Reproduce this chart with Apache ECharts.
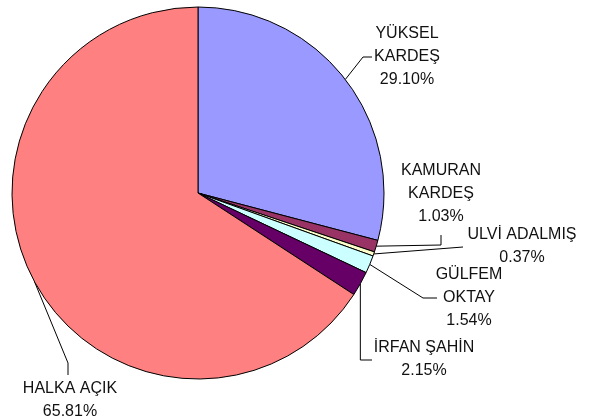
<!DOCTYPE html>
<html>
<head>
<meta charset="utf-8">
<script src="https://cdn.jsdelivr.net/npm/echarts@6/dist/echarts.min.js"></script>
<style>
html,body{margin:0;padding:0;background:#fff;}
#chart{width:591px;height:419px;}
</style>
</head>
<body>
<div id="chart"></div>
<script>
// Data
const categories = ['YÜKSEL\nKARDEŞ', 'KAMURAN\nKARDEŞ', 'ULVİ ADALMIŞ', 'GÜLFEM\nOKTAY', 'İRFAN ŞAHİN', 'HALKA AÇIK'];
const values = [29.10, 1.03, 0.37, 1.54, 2.15, 65.81];
const colors = ['#9999FF', '#993366', '#FFFFCC', '#CCFFFF', '#660066', '#FF8080'];

// Label placement (layout only)
const labelPos = [[407, 57], [441, 194], [522, 246], [469, 298], [424, 359], [70, 400]];
const lineBends = [
  [[363, 57], [372, 57]],
  [[441, 245], [441, 235]],
  [[463, 247], [463, 247]],
  [[423, 298], [437, 298]],
  [null, [372, 360]],
  [[68, 363], [68, 375]]
];

const chart = echarts.init(document.getElementById('chart'), null, {renderer: 'canvas'});
chart.setOption({
  animation: false,
  backgroundColor: '#ffffff',
  series: [{
    type: 'pie',
    center: [198, 193],
    radius: 186,
    startAngle: 90,
    clockwise: true,
    avoidLabelOverlap: false,
    data: categories.map((c, i) => ({name: c, value: values[i], itemStyle: {color: colors[i]}})),
    itemStyle: {borderColor: '#000', borderWidth: 1},
    label: {
      show: true,
      position: 'outside',
      formatter: p => p.name + '\n' + p.value.toFixed(2) + '%',
      fontFamily: 'Liberation Sans, Arial, sans-serif',
      fontSize: 16,
      lineHeight: 23,
      color: '#111',
      align: 'center'
    },
    labelLine: {show: true, lineStyle: {color: '#000', width: 1}},
    emphasis: {disabled: true},
    labelLayout: function (params) {
      const i = params.dataIndex;
      const start = params.labelLinePoints ? params.labelLinePoints[0] : null;
      const b = lineBends[i];
      const res = {x: labelPos[i][0], y: labelPos[i][1], align: 'center', verticalAlign: 'middle'};
      if (start) {
        const bend = b[0] ? b[0] : [start[0], b[1][1]];
        res.labelLinePoints = [start, bend, b[1]];
      }
      return res;
    }
  }]
});
</script>
</body>
</html>
